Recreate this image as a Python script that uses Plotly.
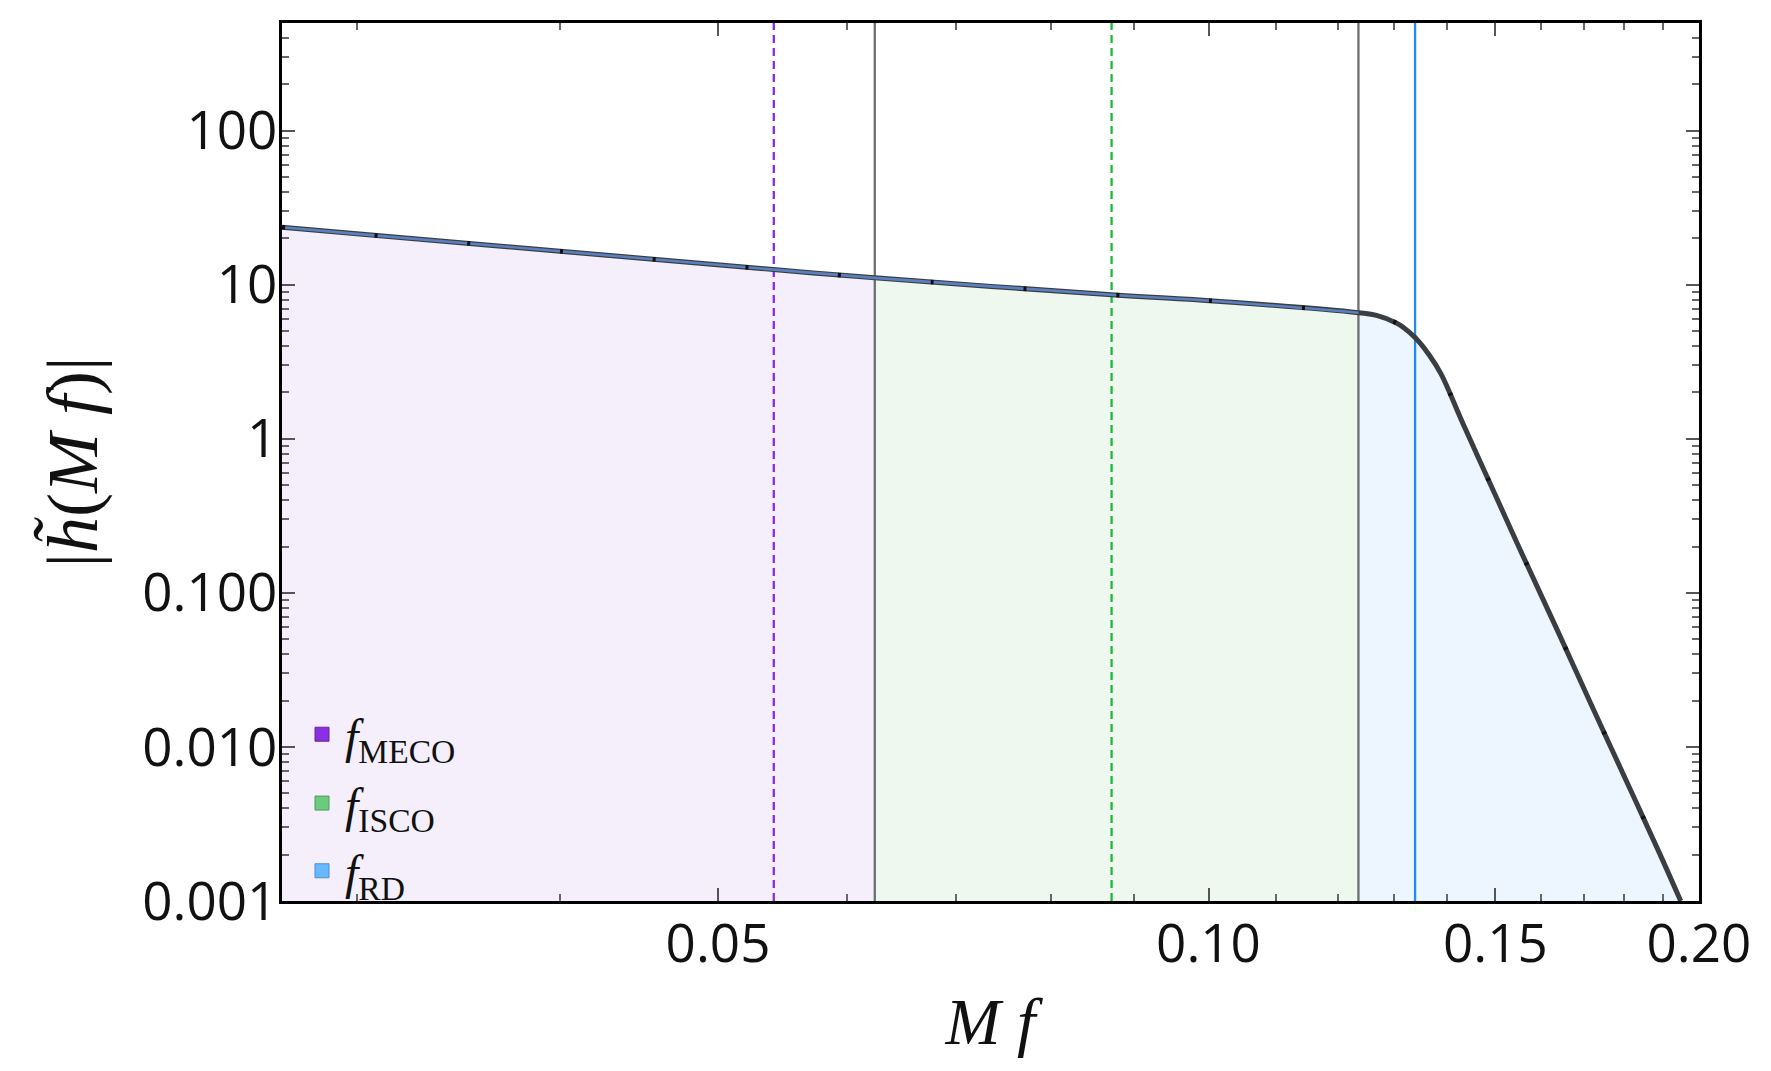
import numpy as np
import plotly.graph_objects as go

# ---------------- data ----------------
mf = [0.027, 0.030, 0.040, 0.0529, 0.0624, 0.0872, 0.1012, 0.1236, 0.1268,
      0.1303, 0.1316, 0.1339, 0.1366, 0.1389, 0.1432, 0.1469, 0.150,
      0.155, 0.164, 0.1716, 0.1807, 0.1892, 0.1949]
amp = [23.6, 21.4, 16.5, 12.8, 11.09, 8.61, 7.82, 6.58, 6.33,
       5.67, 5.32, 4.54, 3.50, 2.64, 1.27, 0.70, 0.43,
       0.20, 0.055, 0.0192, 0.00586, 0.00203, 0.001]

f_meco = 0.0541
f_isco = 0.0872
f_rd = 0.1339
f_trans = [0.0624, 0.1236]          # grey region boundaries

x_range = [0.027, 0.2]
y_range = [0.001, 500]

x_major = [0.05, 0.10, 0.15, 0.20]
x_major_text = ["0.05", "0.10", "0.15", "0.20"]
x_minor = [0.03, 0.04, 0.06, 0.07, 0.08, 0.09, 0.11, 0.12, 0.13, 0.14,
           0.16, 0.17, 0.18, 0.19]
y_major = [0.001, 0.01, 0.1, 1, 10, 100]
y_major_text = ["0.001", "0.010", "0.100", "1", "10", "100"]
y_minor = [k * 10.0 ** e for e in range(-3, 3) for k in range(2, 10)
           if k * 10.0 ** e <= 500]

legend_names = ["<i>f</i><sub>MECO</sub>", "<i>f</i><sub>ISCO</sub>", "<i>f</i><sub>RD</sub>"]
legend_colors = ["#8b2fe2", "#6acb7c", "#66b8ff"]
legend_edges = ["#5e2a99", "#4f9a5c", "#4f8cc4"]
legend_ypos = [0.1896, 0.1112, 0.0341]

region_fills = ["#f4effb", "#eef8ef", "#edf5fe"]

# ---------------- helpers ----------------
lmf = np.log10(mf)
lamp = np.log10(amp)


def amp_at(f):
    return float(10 ** np.interp(np.log10(f), lmf, lamp))


SM = 1.0
EPS = 1e-5
fig = go.Figure()

bounds = [x_range[0], f_trans[0], f_trans[1], mf[-1]]
for i in range(3):
    a, b = bounds[i], bounds[i + 1]
    inner = [(x, y) for x, y in zip(mf, amp) if a < x < b]
    xs = [a] + [p[0] for p in inner] + [b]
    ys = [amp_at(a)] + [p[1] for p in inner] + [amp_at(b)]
    fig.add_trace(go.Scatter(x=[a, b], y=[y_range[0] / 10] * 2, mode="lines",
                             line=dict(width=0), showlegend=False, hoverinfo="skip"))
    fig.add_trace(go.Scatter(x=xs, y=ys, fill="tonexty", fillcolor=region_fills[i],
                             mode="lines", line=dict(width=0, shape="spline", smoothing=SM),
                             showlegend=False, hoverinfo="skip"))

# vertical lines
vlines = [(f_meco, "#8a2be2", "8px,5px"), (f_trans[0], "#6e6e6e", "solid"),
          (f_isco, "#1fb83b", "8px,5px"), (f_trans[1], "#6e6e6e", "solid"),
          (f_rd, "#1e8cf0", "solid")]
for xv, col, dash in vlines:
    fig.add_trace(go.Scatter(x=[xv, xv], y=y_range, mode="lines",
                             line=dict(color=col, width=2.3, dash=dash),
                             showlegend=False, hoverinfo="skip"))

# amplitude curves
fig.add_trace(go.Scatter(x=mf, y=amp, mode="lines",
                         line=dict(color="#3a3e43", width=5, shape="spline", smoothing=SM),
                         showlegend=False))
ins_x = [x for x in mf if x <= f_trans[1]]
ins_y = amp[:len(ins_x)]
fig.add_trace(go.Scatter(x=ins_x, y=ins_y, mode="lines",
                         line=dict(color="#5b80c0", width=2.6, shape="spline", smoothing=SM),
                         showlegend=False))
fig.add_trace(go.Scatter(x=mf, y=amp, mode="lines",
                         line=dict(color="#111111", width=4.5, dash="3px,90px",
                                   shape="spline", smoothing=SM),
                         showlegend=False))

# legend entries, one small legend per entry
legend_keys = ["legend", "legend2", "legend3"]
for name, col, edge, lk in zip(legend_names, legend_colors, legend_edges, legend_keys):
    fig.add_trace(go.Scatter(x=[None], y=[None], mode="markers", name=name,
                             legend=lk,
                             marker=dict(symbol="square", size=14, color=col,
                                         line=dict(color=edge, width=1))))

legend_style = dict(xanchor="left", yanchor="middle", bgcolor="rgba(0,0,0,0)",
                    font=dict(family="Liberation Serif", size=48, color="#111111"),
                    itemsizing="trace", itemwidth=36)

tickfont = dict(family="Open Sans", size=53, color="#111111")
titlefont = dict(family="Liberation Serif", size=66, color="#111111")

layout_legends = {lk: dict(x=0.012, y=yp, **legend_style)
                  for lk, yp in zip(legend_keys, legend_ypos)}

fig.update_layout(
    width=1755, height=1055,
    margin=dict(l=274, r=57, t=12, b=162),
    paper_bgcolor="white", plot_bgcolor="white",
    showlegend=True,
    xaxis=dict(type="log",
               range=[np.log10(x_range[0]), np.log10(x_range[1]) + EPS],
               tickmode="array", tickvals=x_major, ticktext=x_major_text,
               ticks="inside", ticklen=13, tickwidth=1.5, tickcolor="#555555",
               mirror="allticks", showline=True, linewidth=3, linecolor="black",
               showgrid=False, zeroline=False, tickfont=tickfont,
               ticklabelstandoff=-6,
               minor=dict(tickmode="array", tickvals=x_minor, ticks="inside", ticklen=7,
                          tickwidth=1.5, tickcolor="#666666", showgrid=False),
               title=dict(text="<i>M f</i>", font=titlefont, standoff=22)),
    yaxis=dict(type="log",
               range=[np.log10(y_range[0]) - EPS, np.log10(y_range[1])],
               tickmode="array", tickvals=y_major, ticktext=y_major_text,
               ticks="inside", ticklen=13, tickwidth=1.5, tickcolor="#555555",
               mirror="allticks", showline=True, linewidth=3, linecolor="black",
               showgrid=False, zeroline=False, tickfont=tickfont,
               ticklabelstandoff=-9,
               minor=dict(tickmode="array", tickvals=y_minor, ticks="inside", ticklen=7,
                          tickwidth=1.5, tickcolor="#666666", showgrid=False),
               title=dict(text="|<i>h̃</i>(<i>M f</i>)|",
                          font=dict(family="Liberation Serif", size=72, color="#111111"),
                          standoff=22)),
    **layout_legends,
)

fig.write_html("out.html")
